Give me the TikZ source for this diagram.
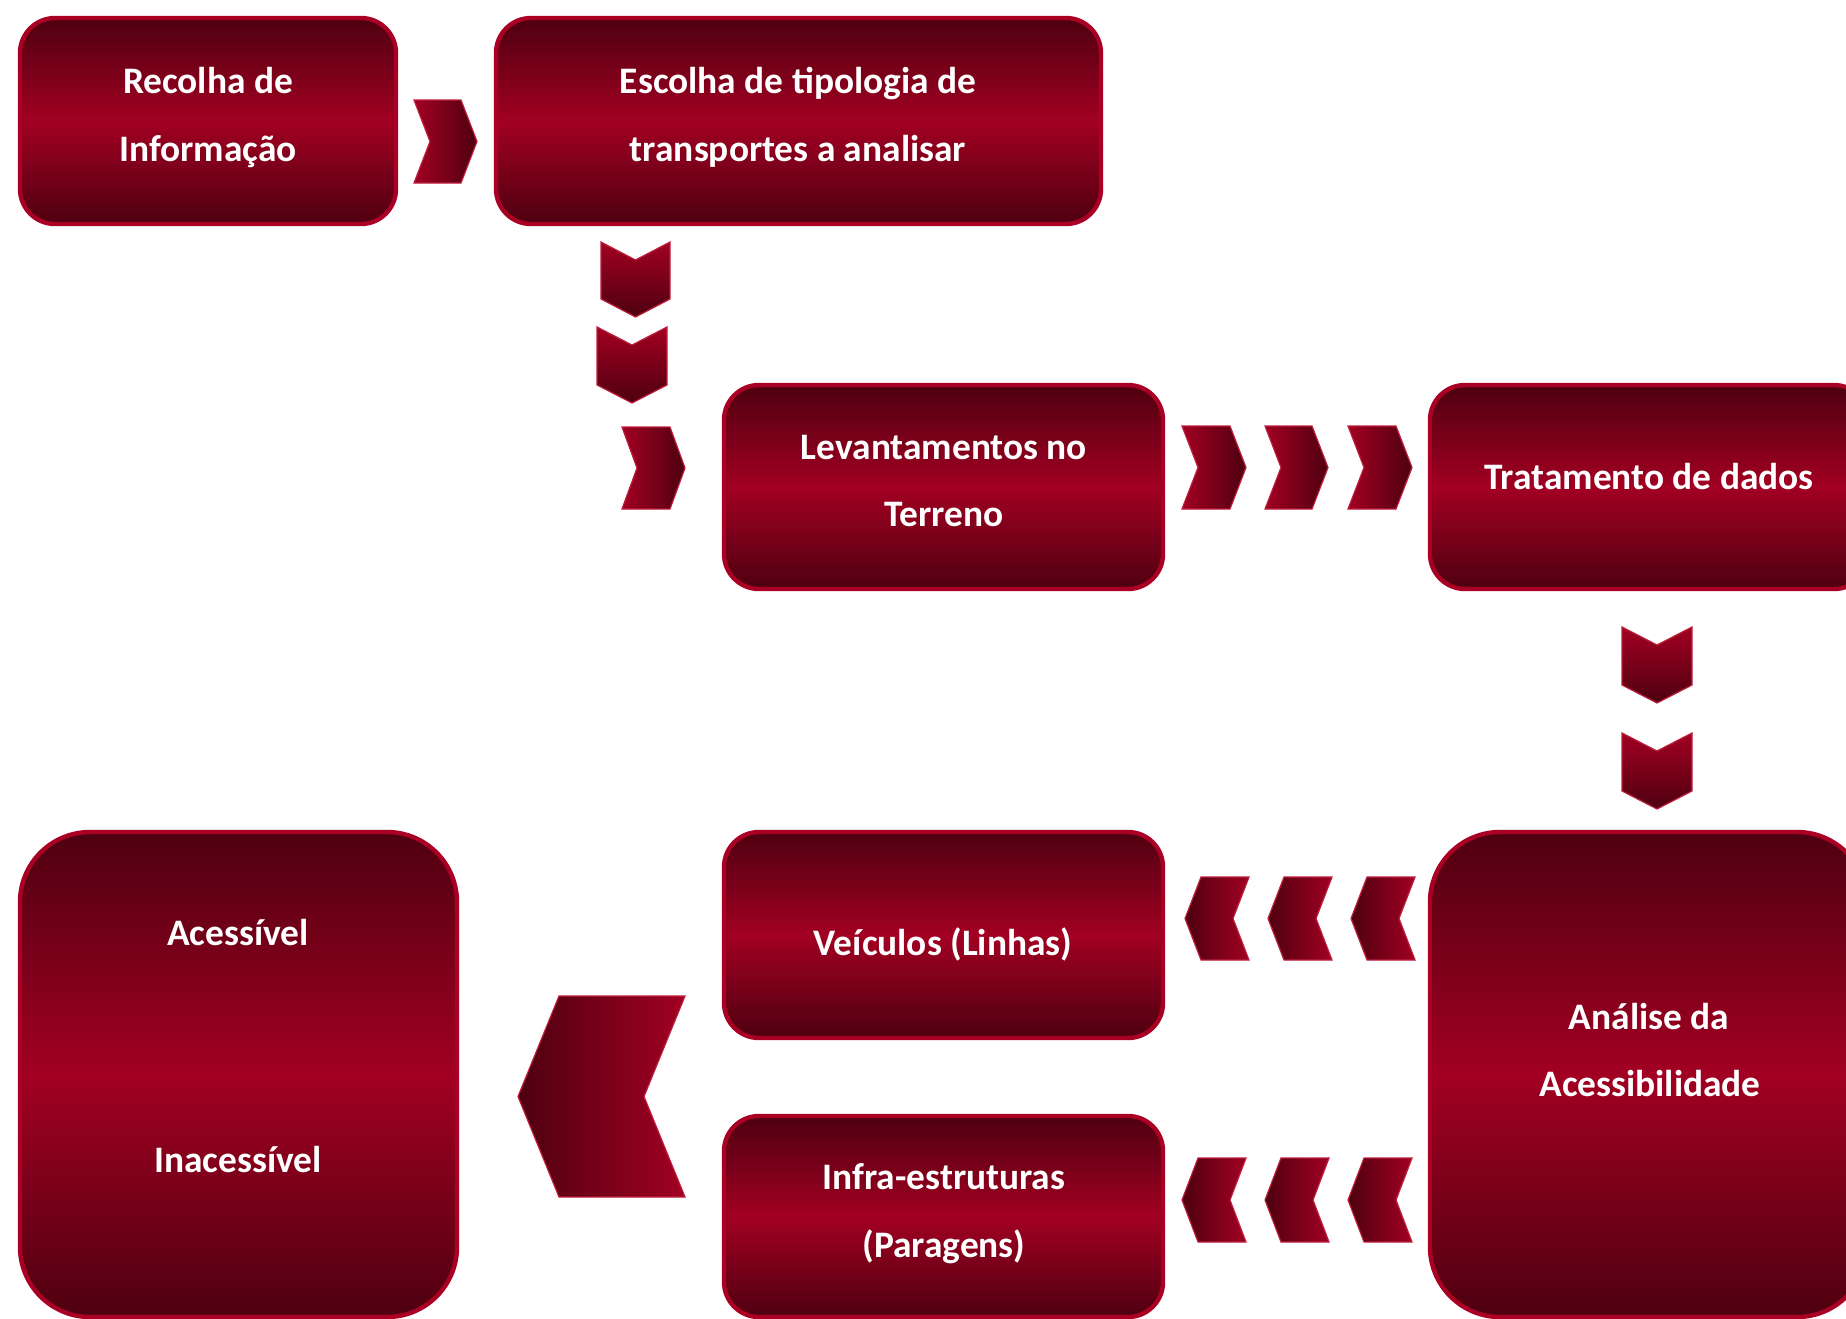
\documentclass[tikz,border=0pt]{standalone}
\usepackage{fontspec}
\setmainfont{Carlito}
\definecolor{dk}{RGB}{78,0,16}
\definecolor{br}{RGB}{162,0,34}
\definecolor{bd}{RGB}{170,0,36}
\definecolor{cbd}{RGB}{190,30,60}
\tikzset{
  box/.style={draw=bd, line width=2.2pt, rounded corners=17.5pt, top color=dk, bottom color=dk, middle color=br, inner sep=0pt},
  tallbox/.style={box, rounded corners=35pt},
  lbl/.style={text=white, anchor=base, inner sep=0pt, font=\fontsize{18.7pt}{22pt}\selectfont\bfseries},
  chevh/.style={draw=cbd, line width=0.6pt, line join=miter},
}
\newcommand\chevright[5]{\path[chevh, left color=br, right color=dk] (#1,#2) -- ({#3-#5},#2) -- (#3,{(#2+#4)/2}) -- ({#3-#5},#4) -- (#1,#4) -- ({#1+#5},{(#2+#4)/2}) -- cycle;}
\newcommand\chevleft[5]{\path[chevh, left color=dk, right color=br] (#1,{(#2+#4)/2}) -- ({#1+#5},#2) -- (#3,#2) -- ({#3-#5},{(#2+#4)/2}) -- (#3,#4) -- ({#1+#5},#4) -- cycle;}
\newcommand\chevdown[5]{\path[chevh, top color=br, bottom color=dk] (#1,#2) -- ({(#1+#3)/2},{#2+#5}) -- (#3,#2) -- (#3,{#4-#5}) -- ({(#1+#3)/2},#4) -- (#1,{#4-#5}) -- cycle;}
\begin{document}
\begin{tikzpicture}[x=0.5pt, y=-0.5pt]
\useasboundingbox (0,0) rectangle (1846,1318);
\clip (0,0) rectangle (1846,1318);
% boxes
\node[box, minimum width=188pt, minimum height=103pt] (b1) at (208,121) {};
\node[box, minimum width=302.5pt, minimum height=103pt] (b2) at (798.5,121) {};
\node[box, minimum width=219.5pt, minimum height=102pt] (b3) at (943.5,487) {};
\node[box, minimum width=219.5pt, minimum height=102pt] (b4) at (1649.5,487) {};
\node[box, minimum width=219.5pt, minimum height=103pt] (b5) at (943.5,935) {};
\node[box, minimum width=219.5pt, minimum height=100.5pt] (b6) at (943.5,1216.5) {};
\node[tallbox, minimum width=218.5pt, minimum height=242.5pt] (b7) at (238.5,1074.5) {};
\node[tallbox, minimum width=218.5pt, minimum height=242.5pt] (b8) at (1648.5,1074.5) {};
% texts
\node[lbl] (t1a) at (208,93) {Recolha de};
\node[lbl] (t1b) at (208,161) {Informação};
\node[lbl] (t2a) at (798,93) {Escolha de tipologia de};
\node[lbl] (t2b) at (798,161) {transportes a analisar};
\node[lbl] (t3a) at (944,459) {Levantamentos no};
\node[lbl] (t3b) at (944,526) {Terreno};
\node[lbl] (t4) at (1649,489) {Tratamento de dados};
\node[lbl] (t5) at (943,955) {Veículos (Linhas)};
\node[lbl] (t6a) at (944,1189) {Infra-estruturas};
\node[lbl] (t6b) at (944,1257) {(Paragens)};
\node[lbl] (t7a) at (238,945) {Acessível};
\node[lbl] (t7b) at (238,1172) {Inacessível};
\node[lbl] (t8a) at (1649,1029) {Análise da};
\node[lbl] (t8b) at (1650,1096) {Acessibilidade};
% chevrons
\chevright{414}{100}{477}{183}{16}
\chevdown{601}{242}{670}{317}{18}
\chevdown{597}{327}{667}{403}{18}
\chevright{622}{427}{685}{509}{15}
\chevright{1182}{426}{1246}{509}{16}
\chevright{1265}{426}{1328}{509}{16}
\chevright{1348}{426}{1412}{509}{16}
\chevdown{1622}{627}{1692}{703}{18}
\chevdown{1622}{733}{1692}{809}{18}
\chevleft{1185}{877}{1249}{960}{16}
\chevleft{1268}{877}{1332}{960}{16}
\chevleft{1351}{877}{1415}{960}{16}
\chevleft{1182}{1158}{1246}{1242}{16}
\chevleft{1265}{1158}{1329}{1242}{16}
\chevleft{1348}{1158}{1412}{1242}{16}
\chevleft{518}{996}{685}{1197}{41}
\end{tikzpicture}
\end{document}
